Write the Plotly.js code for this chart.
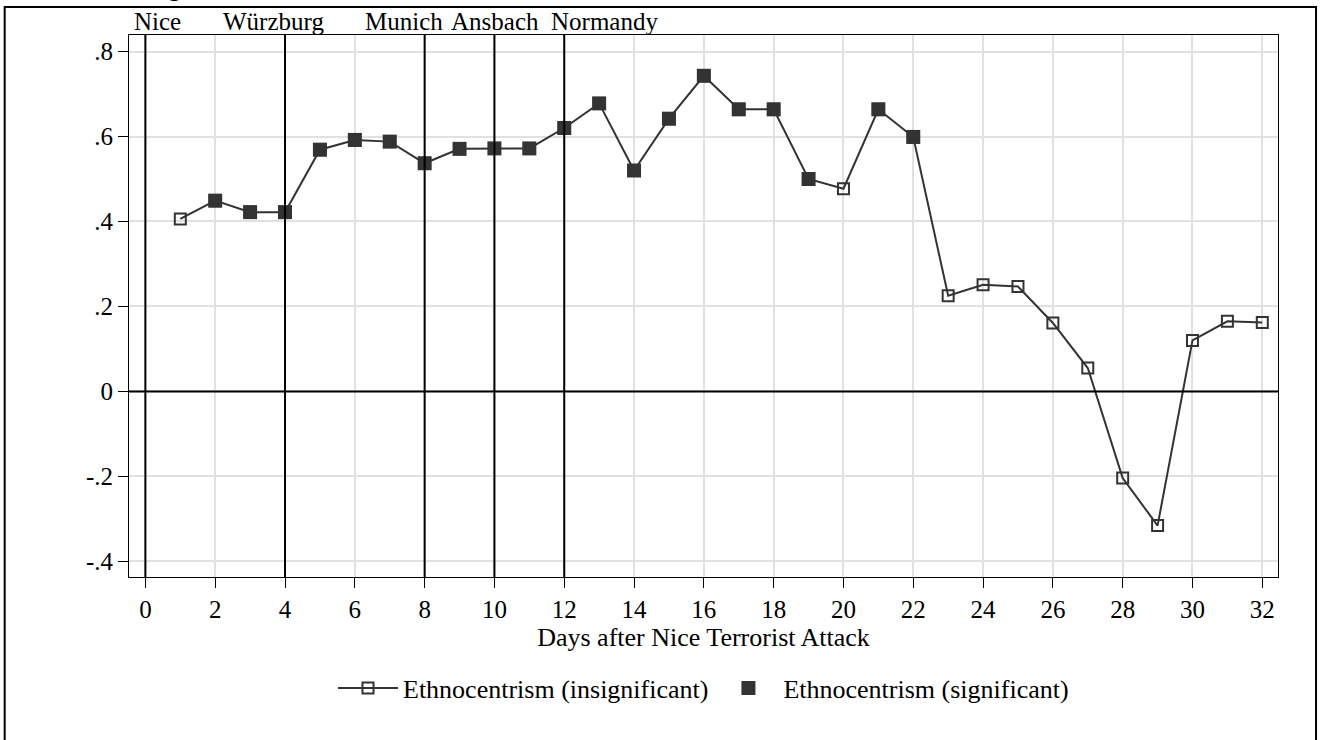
<!DOCTYPE html>
<html>
<head>
<meta charset="utf-8">
<script src="https://cdn.plot.ly/plotly-3.0.1.min.js"></script>
<style>
  html, body { margin: 0; padding: 0; background: #fff; }
  #chart { width: 1320px; height: 740px; }
</style>
</head>
<body>
<div id="chart"></div>
<script>
// Days after the Nice attack and the estimated ethnocentrism effect per day
const days = [1, 2, 3, 4, 5, 6, 7, 8, 9, 10, 11, 12, 13, 14, 15, 16,
              17, 18, 19, 20, 21, 22, 23, 24, 25, 26, 27, 28, 29, 30, 31, 32];
const effect = [0.406, 0.449, 0.422, 0.422, 0.569, 0.592, 0.588, 0.537,
                0.571, 0.572, 0.572, 0.620, 0.678, 0.520, 0.642, 0.743,
                0.664, 0.664, 0.500, 0.477, 0.664, 0.599, 0.225, 0.251,
                0.247, 0.161, 0.055, -0.204, -0.316, 0.120, 0.165, 0.162];
// 1 = statistically significant on that day
const significant = [0, 1, 1, 1, 1, 1, 1, 1, 1, 1, 1, 1, 1, 1, 1, 1,
                     1, 1, 1, 0, 1, 1, 0, 0, 0, 0, 0, 0, 0, 0, 0, 0];

// Attack dates (day index) and their labels along the top edge
const eventDays = [0, 4, 8, 10, 12];
const eventNames = ['Nice', 'Würzburg', 'Munich', 'Ansbach', 'Normandy'];
const eventLabelX = [-0.37, 2.17, 6.22, 8.71, 11.57];

const xTicks = [0, 2, 4, 6, 8, 10, 12, 14, 16, 18, 20, 22, 24, 26, 28, 30, 32];
const yTicks = [-0.4, -0.2, 0, 0.2, 0.4, 0.6, 0.8];
const yTickText = ['-.4', '-.2', '0', '.2', '.4', '.6', '.8'];

const titleText = 'Figure 4: The activation of ethnocentrism in the time between start of the terrorist attacks';

const FONT = 'Liberation Serif, Times New Roman, serif';
const INK = '#333333';

const sigX = days.filter((d, i) => significant[i] === 1);
const sigY = effect.filter((v, i) => significant[i] === 1);

const traces = [
  {
    x: days, y: effect,
    type: 'scatter', mode: 'lines+markers',
    name: 'Ethnocentrism (insignificant)',
    line: { color: INK, width: 2 },
    marker: { symbol: 'square-open', size: 11, color: INK, line: { width: 2, color: INK } },
    cliponaxis: false
  },
  {
    x: sigX, y: sigY,
    type: 'scatter', mode: 'markers',
    name: 'Ethnocentrism (significant)',
    marker: { symbol: 'square', size: 14, color: INK, line: { width: 0 } },
    cliponaxis: false
  }
];

const shapes = eventDays.map(d => ({
  type: 'line', xref: 'x', yref: 'paper',
  x0: d, x1: d, y0: 0, y1: 1,
  line: { color: '#000', width: 2 }
}));
shapes.push({
  type: 'line', xref: 'paper', yref: 'y',
  x0: 0, x1: 1, y0: 0, y1: 0,
  line: { color: '#000', width: 2 }
});
// outer figure frame
shapes.push({
  type: 'rect', xref: 'paper', yref: 'paper',
  x0: -0.1082, x1: 1.0331, y0: -0.31, y1: 1.0516,
  line: { color: '#000', width: 2 }, fillcolor: 'rgba(0,0,0,0)'
});

const annotations = eventNames.map((n, i) => ({
  text: n, x: eventLabelX[i], xref: 'x', y: 0.997, yref: 'paper',
  xanchor: 'left', yanchor: 'bottom', showarrow: false,
  font: { family: FONT, size: 25, color: '#000' }
}));
annotations.push({
  text: '<b>' + titleText + '</b>',
  x: 0, xref: 'container', xanchor: 'left',
  y: 1.0585, yref: 'paper', yanchor: 'bottom', showarrow: false,
  font: { family: FONT, size: 24, color: '#000' }
});

const layout = {
  width: 1320, height: 740,
  paper_bgcolor: '#fff', plot_bgcolor: '#fff',
  margin: { l: 129, r: 42, t: 35, b: 163 },
  font: { family: FONT, size: 25, color: '#000' },
  showlegend: true,
  legend: {
    orientation: 'h', xref: 'paper', x: 0.5, xanchor: 'center',
    yref: 'container', y: 0.07, yanchor: 'middle',
    font: { family: FONT, size: 26, color: '#000' },
    itemwidth: 60, traceorder: 'normal'
  },
  xaxis: {
    range: [-0.47, 32.45], tickvals: xTicks,
    ticks: 'outside', ticklen: 10, tickwidth: 1, tickcolor: '#000',
    showgrid: true, gridcolor: '#e1e1e1', gridwidth: 2,
    zeroline: false, showline: true, linecolor: '#000', linewidth: 1, mirror: true,
    tickfont: { family: FONT, size: 25 },
    title: { text: 'Days after Nice Terrorist Attack', font: { family: FONT, size: 26 }, standoff: 2 }
  },
  yaxis: {
    range: [-0.437, 0.839], tickvals: yTicks, ticktext: yTickText,
    ticks: 'outside', ticklen: 10, tickwidth: 1, tickcolor: '#000',
    showgrid: true, gridcolor: '#e1e1e1', gridwidth: 2,
    zeroline: false, showline: true, linecolor: '#000', linewidth: 1, mirror: true,
    tickfont: { family: FONT, size: 25 }
  },
  shapes: shapes,
  annotations: annotations
};

Plotly.newPlot('chart', traces, layout, { displayModeBar: false, staticPlot: true });
</script>
</body>
</html>
